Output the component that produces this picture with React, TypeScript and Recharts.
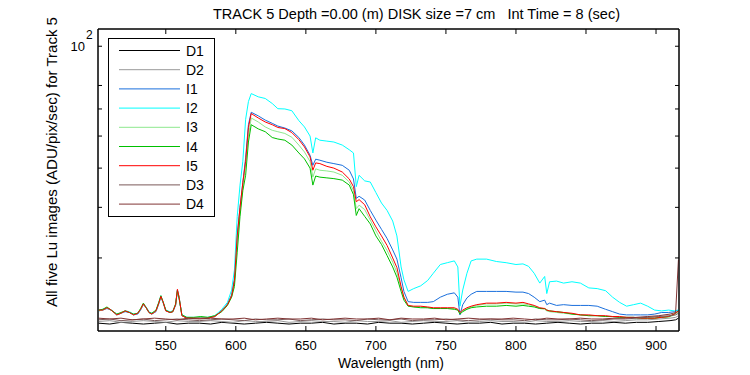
import { LineChart, Line, XAxis, YAxis, Legend, ReferenceArea } from 'recharts'

// wavelength grid (nm) for the five Lu image spectra
const WAVELENGTH_I = [
  502, 505, 508, 511, 515, 518, 521, 524, 527, 530,
  532, 534, 536, 538, 540, 543, 545, 546.5, 548, 550,
  553, 555, 557, 558.3, 559.5, 561.5, 565, 570, 575, 580,
  585, 590, 594, 597, 599, 601, 603, 605, 607, 609,
  611, 616, 621, 626, 630, 635, 640, 645, 649, 653,
  655, 657, 660, 665, 670, 676, 681, 684, 686, 688,
  692, 696, 700, 704, 708, 712, 715, 718, 720, 723,
  727, 732, 737, 741, 746, 751, 756, 758.5, 760, 762,
  765, 768, 772, 779, 786, 793, 800, 805, 809, 813,
  817, 820.5, 822, 824, 829, 834, 840, 846, 852, 858,
  864, 869, 874, 879, 884, 889, 894, 899, 904, 909,
  913, 916,
]

const I1 = [
  22.2, 22.3, 22.5, 22.3, 21.7, 21.9, 22.1, 22.0, 21.7, 21.8,
  22.3, 23.0, 22.6, 22.0, 21.8, 22.1, 23.1, 24.0, 23.3, 22.2,
  22.0, 22.1, 22.9, 24.9, 23.9, 21.6, 21.3, 21.3, 21.3, 21.3,
  21.5, 22.2, 23.1, 24.3, 26.6, 34, 40, 46, 53, 64,
  68.7, 67.3, 65.7, 64.5, 63.5, 62.8, 61.8, 59.5, 57.0, 53.8,
  50.8, 52.6, 52.3, 51.7, 51.3, 50.8, 49.4, 47, 42.1, 42.6,
  41.7, 39.3, 37.2, 35.3, 33.5, 31.4, 29.8, 26.8, 24.8, 23.4,
  23.3, 23.3, 23.3, 23.4, 24.0, 24.4, 24.6, 24.0, 21.7, 23.0,
  23.9, 24.4, 24.8, 24.8, 24.8, 24.8, 24.7, 24.7, 24.5, 24.0,
  23.4, 23.6, 23.0, 23.2, 22.9, 23.0, 22.9, 22.9, 22.9, 22.8,
  22.4, 22.1, 21.8, 21.7, 21.7, 21.7, 21.7, 21.8, 22.0, 22.0,
  22.1, 22.3,
]

const I2 = [
  22.3, 22.4, 22.6, 22.3, 21.8, 21.9, 22.2, 22.1, 21.8, 21.9,
  22.4, 23.1, 22.7, 22.1, 21.9, 22.2, 23.3, 24.2, 23.4, 22.3,
  22.1, 22.2, 23.0, 25.0, 24.0, 21.7, 21.4, 21.4, 21.4, 21.4,
  21.6, 22.4, 23.3, 25.0, 28.0, 38, 45.4, 52, 66, 73,
  76.4, 75, 74.3, 72.2, 70.1, 70.0, 69.3, 65.5, 63.2, 60,
  54.5, 59.4, 58.6, 58.3, 58, 57, 55.5, 54.5, 45, 48,
  46.5, 46.2, 43.5, 41, 39.3, 37, 34, 28.5, 26.5, 24.8,
  25.2, 25.6, 26.4, 27.5, 28.9, 29.2, 29.5, 28.5, 22.8, 25.0,
  27.5, 29.5, 29.8, 29.8, 29.4, 29.2, 28.9, 29.0, 28.6, 27.5,
  26.0, 27.0, 24.5, 26.2, 26.3, 26.0, 26.2, 26.0, 25.3, 25.2,
  24.9, 24.0, 23.3, 22.8, 23.0, 23.2, 22.8, 22.3, 22.2, 22.3,
  22.2, 22.3,
]

const I3 = [
  22.2, 22.3, 22.6, 22.3, 21.7, 21.9, 22.2, 22.0, 21.7, 21.9,
  22.4, 23.0, 22.6, 22.0, 21.8, 22.2, 23.2, 24.0, 23.4, 22.2,
  22.0, 22.1, 23.0, 25.0, 24.0, 21.6, 21.3, 21.3, 21.3, 21.3,
  21.5, 22.2, 23.0, 24.1, 26.0, 33, 39, 45, 51, 60,
  66.5, 65, 63.2, 62, 61.5, 60.9, 59.6, 57, 54.8, 51.9,
  47.5, 49.8, 49.4, 49.2, 48.9, 48, 46.2, 44, 39.7, 40.5,
  39.5, 37.2, 35, 33, 31.3, 29.3, 27.6, 25.3, 24, 22.9,
  22.7, 22.7, 22.6, 22.5, 22.5, 22.5, 22.5, 22.3, 21.9, 22.2,
  22.5, 22.7, 22.9, 23.1, 23.1, 23.2, 23.1, 23.1, 23.0, 22.8,
  22.5, 22.4, 22.2, 22.1, 22.0, 21.9, 21.8, 21.7, 21.6, 21.6,
  21.5, 21.5, 21.4, 21.4, 21.3, 21.3, 21.3, 21.3, 21.4, 21.4,
  21.7, 22.1,
]

const I4 = [
  22.3, 22.4, 22.7, 22.3, 21.8, 22.0, 22.2, 22.0, 21.8, 21.9,
  22.5, 23.2, 22.6, 22.0, 21.9, 22.3, 23.3, 24.2, 23.4, 22.3,
  22.0, 22.1, 23.1, 24.9, 23.8, 21.7, 21.4, 21.4, 21.5, 21.4,
  21.6, 22.1, 22.9, 24.0, 25.5, 31, 38, 44, 48, 58,
  64, 62.5, 61.5, 59.5, 59, 58.6, 57, 54.5, 52.7, 50,
  45.4, 47.8, 47.5, 47.3, 47.1, 46.7, 45.4, 43, 38.2, 39.7,
  38, 36.4, 34, 32.4, 30.4, 28.5, 26.9, 24.8, 23.6, 22.8,
  22.7, 22.6, 22.6, 22.5, 22.5, 22.5, 22.4, 22.3, 21.8, 22.1,
  22.4, 22.6, 22.7, 22.8, 22.8, 22.9, 22.8, 22.9, 22.8, 22.7,
  22.5, 22.5, 22.3, 22.2, 22.1, 22.0, 21.8, 21.7, 21.6, 21.6,
  21.5, 21.5, 21.4, 21.4, 21.4, 21.3, 21.3, 21.3, 21.4, 21.5,
  21.8, 22.2,
]

const I5 = [
  22.3, 22.3, 22.6, 22.3, 21.7, 21.9, 22.2, 22.0, 21.7, 21.9,
  22.4, 23.1, 22.6, 22.0, 21.8, 22.2, 23.2, 24.1, 23.4, 22.2,
  22.0, 22.1, 23.0, 25.1, 24.0, 21.6, 21.3, 21.3, 21.3, 21.3,
  21.5, 22.2, 23.0, 24.2, 26.4, 34, 40, 46, 52, 63,
  68.2, 66.5, 65, 64, 63, 62.6, 61.2, 58.8, 56.4, 53.3,
  49.4, 51.5, 51.3, 50.5, 50, 48.9, 47, 45, 41.3, 41.8,
  40.6, 37.9, 35.8, 34, 32.2, 30, 28.4, 25.5, 24, 22.9,
  22.8, 22.8, 22.7, 22.6, 22.6, 22.6, 22.6, 22.4, 22.0, 22.3,
  22.6, 22.8, 23.0, 23.2, 23.2, 23.3, 23.2, 23.3, 23.1, 22.9,
  22.6, 22.5, 22.3, 22.2, 22.1, 22.0, 21.9, 21.7, 21.7, 21.6,
  21.6, 21.5, 21.5, 21.4, 21.4, 21.3, 21.3, 21.3, 21.4, 21.5,
  21.8, 22.2,
]

// wavelength grid (nm) for the dark frames
const WAVELENGTH_D = [
  502, 510, 518, 526, 534, 542, 550, 558, 566,
  574, 582, 590, 598, 606, 614, 622, 630, 638,
  646, 654, 662, 670, 678, 686, 694, 702, 710,
  718, 726, 734, 742, 750, 758, 766, 774, 782,
  790, 798, 806, 814, 822, 830, 838, 846, 854,
  862, 870, 878, 886, 894, 902, 910, 914, 916,
]

const D1 = [
  20.7, 20.6, 20.8, 20.7, 20.6, 20.7, 20.8, 20.6, 20.7,
  20.7, 20.6, 20.8, 20.7, 20.6, 20.7, 20.8, 20.7, 20.6,
  20.7, 20.7, 20.8, 20.6, 20.7, 20.7, 20.6, 20.8, 20.7,
  20.7, 20.6, 20.7, 20.8, 20.7, 20.6, 20.7, 20.7, 20.8,
  20.6, 20.7, 20.7, 20.6, 20.7, 20.8, 20.7, 20.6, 20.7,
  20.7, 20.8, 20.7, 20.8, 20.8, 20.9, 21.0, 21.1, 21.3,
]

const D2 = [
  20.9, 21.0, 20.8, 20.9, 21.0, 20.9, 20.8, 21.0, 20.9,
  20.9, 21.0, 20.9, 20.8, 21.0, 20.9, 20.9, 21.0, 20.8,
  20.9, 21.0, 20.9, 20.9, 20.8, 21.0, 20.9, 20.9, 21.0,
  20.8, 20.9, 21.0, 20.9, 20.9, 21.0, 20.8, 20.9, 21.0,
  20.9, 20.9, 20.8, 21.0, 20.9, 20.9, 21.0, 20.9, 20.9,
  21.0, 20.9, 21.0, 21.1, 21.1, 21.2, 21.3, 21.4, 21.6,
]

const D3 = [
  21.1, 21.2, 21.0, 21.1, 21.2, 21.0, 21.1, 21.2, 21.1,
  21.0, 21.1, 21.2, 21.1, 21.0, 21.2, 21.1, 21.1, 21.2,
  21.0, 21.1, 21.2, 21.1, 21.1, 21.0, 21.2, 21.1, 21.1,
  21.2, 21.0, 21.1, 21.1, 21.2, 21.1, 21.0, 21.1, 21.2,
  21.1, 21.1, 21.0, 21.2, 21.1, 21.1, 21.2, 21.1, 21.0,
  21.1, 21.2, 21.2, 21.3, 21.4, 21.5, 21.6, 21.7, 21.9,
]

const D4 = [
  21.3, 21.2, 21.3, 21.1, 21.2, 21.3, 21.2, 21.1, 21.3,
  21.2, 21.3, 21.2, 21.2, 21.3, 21.1, 21.2, 21.3, 21.2,
  21.2, 21.3, 21.1, 21.2, 21.3, 21.2, 21.2, 21.3, 21.1,
  21.3, 21.2, 21.2, 21.3, 21.1, 21.2, 21.3, 21.2, 21.2,
  21.2, 21.3, 21.2, 21.1, 21.3, 21.2, 21.2, 21.3, 21.2,
  21.2, 21.3, 21.3, 21.4, 21.5, 21.6, 21.8, 22.0, 29.7,
]

const X_TICKS = [550, 600, 650, 700, 750, 800, 850, 900]
const Y_TICKS = [30, 40, 50, 60, 70, 80, 90, 100]
const X_DOMAIN = [501.6, 916.4]
const Y_DOMAIN = [19.8, 110.3]

const SERIES = [
  { name: 'D1', color: '#000000', wl: WAVELENGTH_D, values: D1 },
  { name: 'D2', color: '#999999', wl: WAVELENGTH_D, values: D2 },
  { name: 'I1', color: '#1a6fdc', wl: WAVELENGTH_I, values: I1 },
  { name: 'I2', color: '#00ffff', wl: WAVELENGTH_I, values: I2 },
  { name: 'I3', color: '#8ee88e', wl: WAVELENGTH_I, values: I3 },
  { name: 'I4', color: '#00c000', wl: WAVELENGTH_I, values: I4 },
  { name: 'I5', color: '#ff0000', wl: WAVELENGTH_I, values: I5 },
  { name: 'D3', color: '#7a5a5a', wl: WAVELENGTH_D, values: D3 },
  { name: 'D4', color: '#803434', wl: WAVELENGTH_D, values: D4 },
]

const FONT = '"Liberation Sans", Arial, Helvetica, sans-serif'
const M = 4 // tick margin used to find the axis line from the tick text position
const AXIS_LINE = { stroke: '#000', strokeWidth: 1 }

function BottomTick({ x, y, payload }: any) {
  const ay = y - M
  return (
    <g>
      <line x1={x} x2={x} y1={ay} y2={ay - 5} stroke="#000" strokeWidth={1} />
      <text x={x} y={ay + 19} textAnchor="middle" fontSize={13} fontFamily={FONT} fill="#000">
        {payload.value}
      </text>
    </g>
  )
}

function TopTick({ x, y }: any) {
  const ay = y + M
  return <line x1={x} x2={x} y1={ay} y2={ay + 5} stroke="#000" strokeWidth={1} />
}

function LeftTick({ x, y, payload }: any) {
  const ax = x + M
  return (
    <g>
      <line x1={ax} x2={ax + 4} y1={y} y2={y} stroke="#000" strokeWidth={1} />
      {payload.value === 100 && (
        <text fontFamily={FONT} fill="#000">
          <tspan x={ax - 13} y={y + 5} fontSize={13} textAnchor="end">10</tspan>
          <tspan x={ax - 12} y={y - 7} fontSize={12}>2</tspan>
        </text>
      )}
    </g>
  )
}

function RightTick({ x, y }: any) {
  const ax = x - M
  return <line x1={ax} x2={ax - 4} y1={y} y2={y} stroke="#000" strokeWidth={1} />
}

function LegendBox() {
  return (
    <svg width={107} height={179} style={{ display: 'block' }}>
      <rect x={0.5} y={0.5} width={106} height={178} fill="#fff" stroke="#000" />
      {SERIES.map((s, i) => {
        const cy = 12.5 + i * 19.2
        return (
          <g key={s.name}>
            <line x1={11} x2={72} y1={cy} y2={cy} stroke={s.color} />
            <text x={78} y={cy + 5} fontSize={14} fontFamily={FONT} fill="#000">
              {s.name}
            </text>
          </g>
        )
      })}
    </svg>
  )
}

export default function App() {
  return (
    <div style={{ position: 'fixed', left: 0, top: 0, width: 750, height: 375, background: '#fff' }}>
      <LineChart width={750} height={375} margin={{ top: 28, right: 70, bottom: 14, left: 58 }}>
        {/* hidden axes that carry the data */}
        <XAxis xAxisId="x" type="number" dataKey="wl" domain={X_DOMAIN} allowDataOverflow hide />
        <YAxis yAxisId="y" type="number" scale="log" domain={Y_DOMAIN} allowDataOverflow hide />
        {/* the four sides of the box */}
        <XAxis
          xAxisId="b"
          type="number"
          dataKey="wl"
          domain={X_DOMAIN}
          allowDataOverflow
          ticks={X_TICKS}
          height={30}
          tickSize={0}
          tickMargin={M}
          tick={<BottomTick />}
          axisLine={AXIS_LINE}
        />
        <XAxis
          xAxisId="t"
          orientation="top"
          type="number"
          dataKey="wl"
          domain={X_DOMAIN}
          allowDataOverflow
          ticks={X_TICKS}
          height={1}
          tickSize={0}
          tickMargin={M}
          tick={<TopTick />}
          axisLine={AXIS_LINE}
        />
        <YAxis
          yAxisId="l"
          type="number"
          scale="log"
          domain={Y_DOMAIN}
          allowDataOverflow
          ticks={Y_TICKS}
          width={40}
          tickSize={0}
          tickMargin={M}
          tick={<LeftTick />}
          axisLine={AXIS_LINE}
        />
        <YAxis
          yAxisId="r"
          orientation="right"
          type="number"
          scale="log"
          domain={Y_DOMAIN}
          allowDataOverflow
          ticks={Y_TICKS}
          width={1}
          tickSize={0}
          tickMargin={M}
          tick={<RightTick />}
          axisLine={AXIS_LINE}
        />
        {SERIES.map((s) => (
          <Line
            key={s.name}
            xAxisId="x"
            yAxisId="y"
            name={s.name}
            data={s.wl.map((wl, i) => ({ wl, v: s.values[i] }))}
            dataKey="v"
            type="linear"
            stroke={s.color}
            strokeWidth={1}
            dot={false}
            activeDot={false}
            isAnimationActive={false}
          />
        ))}
        {/* box outline over the whole plotting domain */}
        <ReferenceArea
          xAxisId="x"
          yAxisId="y"
          x1={X_DOMAIN[0]}
          x2={X_DOMAIN[1]}
          y1={Y_DOMAIN[0]}
          y2={Y_DOMAIN[1]}
          fill="none"
          fillOpacity={0}
          stroke="#000"
          strokeWidth={1}
          strokeOpacity={1}
          ifOverflow="visible"
        />
        <Legend
          layout="vertical"
          align="center"
          verticalAlign="middle"
          wrapperStyle={{ left: 108, top: 38, width: 107, height: 179 }}
          content={() => <LegendBox />}
        />
      </LineChart>
      <svg width={750} height={375} style={{ position: 'absolute', left: 0, top: 0, pointerEvents: 'none' }}>
        <text
          x={213}
          y={19}
          fontSize={14}
          fontFamily={FONT}
          fill="#000"
          textLength={407}
          lengthAdjust="spacingAndGlyphs"
          style={{ whiteSpace: 'pre' }}
        >
          {'TRACK 5 Depth =0.00 (m) DISK size =7 cm   Int Time = 8 (sec)'}
        </text>
        <text x={391} y={368} textAnchor="middle" fontSize={14} fontFamily={FONT} fill="#000">
          Wavelength (nm)
        </text>
        <text
          x={0}
          y={0}
          transform="translate(57,162) rotate(-90)"
          textAnchor="middle"
          fontSize={14.5}
          fontFamily={FONT}
          fill="#000"
          textLength={290}
          lengthAdjust="spacingAndGlyphs"
        >
          All five Lu images (ADU/pix/sec) for Track 5
        </text>
      </svg>
    </div>
  )
}
